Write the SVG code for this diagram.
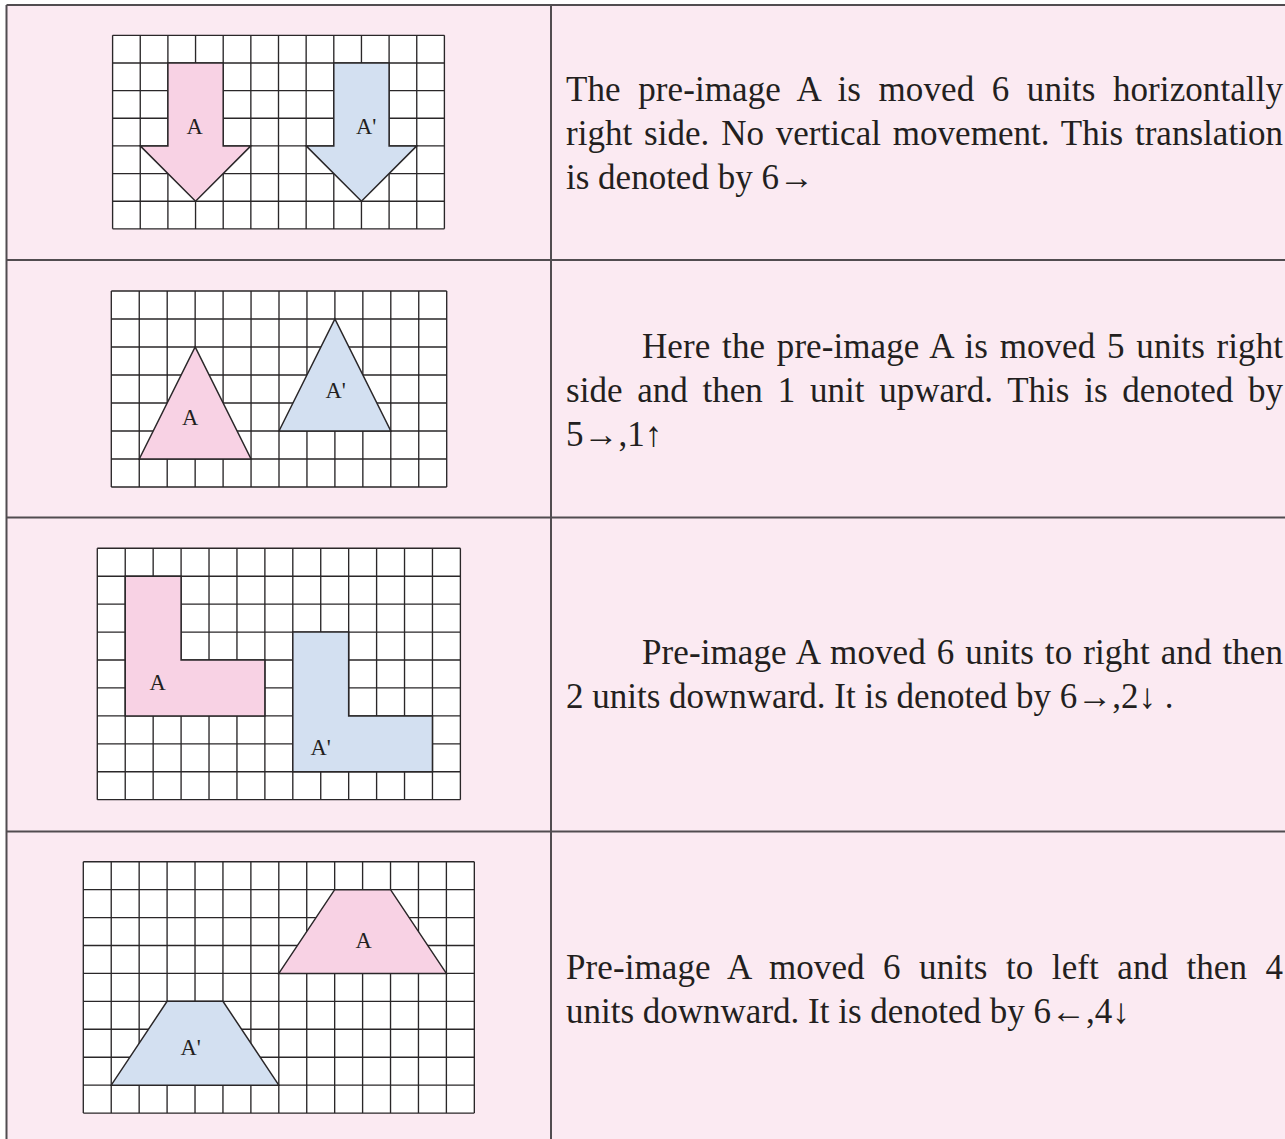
<svg xmlns="http://www.w3.org/2000/svg" width="1285" height="1139" viewBox="0 0 1285 1139">
<style>
.bg{fill:#ffffff}
.cell{fill:#fbeaf2}
.rule{stroke:#514c50;stroke-width:2;fill:none}
.gridbg{fill:#ffffff}
.grid{fill:none;stroke:#2a2729;stroke-width:1.35;vector-effect:non-scaling-stroke}
.pre{fill:#f8d2e4;stroke:#2a2729;stroke-width:1.5;vector-effect:non-scaling-stroke;stroke-linejoin:miter}
.img{fill:#d3e0f1;stroke:#2a2729;stroke-width:1.5;vector-effect:non-scaling-stroke;stroke-linejoin:miter}
.lbl{font-family:"Liberation Serif","Times New Roman",serif;font-size:22.5px;fill:#231f20}
.txt{font-family:"Liberation Serif","Times New Roman",serif;font-size:35px;fill:#231f20}
</style>
<rect class="bg" x="0" y="0" width="1285" height="1139"/>
<rect class="cell" x="6.5" y="5" width="1279" height="1134"/>

<g id="table-rules">
<path class="rule" d="M6.5,5 H1285 M6.5,5 V1139 M551,5 V1139 M6.5,260 H1285 M6.5,517.5 H1285 M6.5,831.5 H1285"/>
</g>

<g id="grid1">
<g transform="translate(112.6,35.3) scale(27.65)">
<rect class="gridbg" x="0" y="0" width="12" height="7"/>
<path class="grid" d="M0,0 V7 M1,0 V7 M2,0 V7 M3,0 V7 M4,0 V7 M5,0 V7 M6,0 V7 M7,0 V7 M8,0 V7 M9,0 V7 M10,0 V7 M11,0 V7 M12,0 V7 M0,0 H12 M0,1 H12 M0,2 H12 M0,3 H12 M0,4 H12 M0,5 H12 M0,6 H12 M0,7 H12"/>
<path class="pre" d="M2,1 H4 V4 H5 L3,6 L1,4 H2 Z"/>
<path class="img" d="M8,1 H10 V4 H11 L9,6 L7,4 H8 Z"/>
</g>
<text class="lbl" x="186.5" y="133.5">A</text>
<text class="lbl" x="356" y="133.5">A'</text>
</g>

<g id="grid2">
<g transform="translate(111.3,291) scale(27.95,28)">
<rect class="gridbg" x="0" y="0" width="12" height="7"/>
<path class="grid" d="M0,0 V7 M1,0 V7 M2,0 V7 M3,0 V7 M4,0 V7 M5,0 V7 M6,0 V7 M7,0 V7 M8,0 V7 M9,0 V7 M10,0 V7 M11,0 V7 M12,0 V7 M0,0 H12 M0,1 H12 M0,2 H12 M0,3 H12 M0,4 H12 M0,5 H12 M0,6 H12 M0,7 H12"/>
<path class="pre" d="M1,6 L3,2 L5,6 Z"/>
<path class="img" d="M6,5 L8,1 L10,5 Z"/>
</g>
<text class="lbl" x="182" y="424.5">A</text>
<text class="lbl" x="325.5" y="397.5">A'</text>
</g>

<g id="grid3">
<g transform="translate(97.3,548.3) scale(27.93)">
<rect class="gridbg" x="0" y="0" width="13" height="9"/>
<path class="grid" d="M0,0 V9 M1,0 V9 M2,0 V9 M3,0 V9 M4,0 V9 M5,0 V9 M6,0 V9 M7,0 V9 M8,0 V9 M9,0 V9 M10,0 V9 M11,0 V9 M12,0 V9 M13,0 V9 M0,0 H13 M0,1 H13 M0,2 H13 M0,3 H13 M0,4 H13 M0,5 H13 M0,6 H13 M0,7 H13 M0,8 H13 M0,9 H13"/>
<path class="pre" d="M1,1 H3 V4 H6 V6 H1 Z"/>
<path class="img" d="M7,3 H9 V6 H12 V8 H7 Z"/>
</g>
<text class="lbl" x="149.5" y="690">A</text>
<text class="lbl" x="310.5" y="755">A'</text>
</g>

<g id="grid4">
<g transform="translate(83.3,861.7) scale(27.93)">
<rect class="gridbg" x="0" y="0" width="14" height="9"/>
<path class="grid" d="M0,0 V9 M1,0 V9 M2,0 V9 M3,0 V9 M4,0 V9 M5,0 V9 M6,0 V9 M7,0 V9 M8,0 V9 M9,0 V9 M10,0 V9 M11,0 V9 M12,0 V9 M13,0 V9 M14,0 V9 M0,0 H14 M0,1 H14 M0,2 H14 M0,3 H14 M0,4 H14 M0,5 H14 M0,6 H14 M0,7 H14 M0,8 H14 M0,9 H14"/>
<path class="pre" d="M9,1 H11 L13,4 H7 Z"/>
<path class="img" d="M3,5 H5 L7,8 H1 Z"/>
</g>
<text class="lbl" x="355.5" y="947.5">A</text>
<text class="lbl" x="180.5" y="1055">A'</text>
</g>

<g id="text1">
<text class="txt" x="566" y="101" word-spacing="8.7" textLength="717" lengthAdjust="spacing">The pre-image A is moved 6 units horizontally</text>
<text class="txt" x="566" y="145" word-spacing="3" textLength="717" lengthAdjust="spacing">right side. No vertical movement. This translation</text>
<text class="txt" x="566" y="189">is denoted by 6→</text>
</g>

<g id="text2">
<text class="txt" x="642" y="358" word-spacing="2.9" textLength="641" lengthAdjust="spacing">Here the pre-image A is moved 5 units right</text>
<text class="txt" x="566" y="402" word-spacing="6" textLength="717" lengthAdjust="spacing">side and then 1 unit upward. This is denoted by</text>
<text class="txt" x="566" y="446">5→,1↑</text>
</g>

<g id="text3">
<text class="txt" x="642" y="664" word-spacing="2.1" textLength="641" lengthAdjust="spacing">Pre-image A moved 6 units to right and then</text>
<text class="txt" x="566" y="708">2 units downward. It is denoted by 6→,2↓ .</text>
</g>

<g id="text4">
<text class="txt" x="566" y="979" word-spacing="9.6" textLength="717" lengthAdjust="spacing">Pre-image A moved 6 units to left and then 4</text>
<text class="txt" x="566" y="1023">units downward. It is denoted by 6←,4↓</text>
</g>
</svg>
